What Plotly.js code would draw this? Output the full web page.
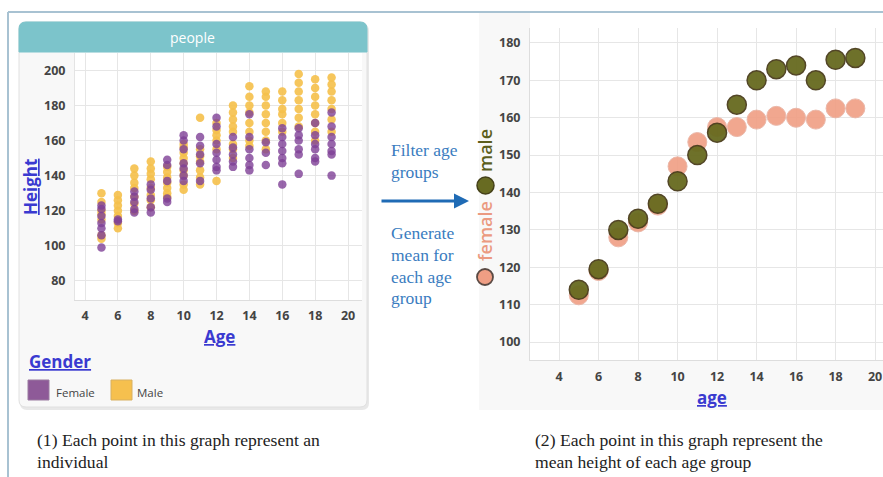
<!DOCTYPE html>
<html>
<head>
<meta charset="utf-8">
<script src="https://cdn.plot.ly/plotly-3.0.1.min.js"></script>
<style>html,body{margin:0;padding:0;background:#fff;}#chart{width:883px;height:477px;}</style>
</head>
<body>
<div id="chart"></div>
<script>
// ---------- data ----------
const ages = [5, 6, 7, 8, 9, 10, 11, 12, 13, 14, 15, 16, 17, 18, 19];

// individual heights (left chart), one list per age
const femaleHeights = [
  [99, 106, 110, 113, 117, 121, 123],
  [114, 115],
  [119, 121, 125, 128, 131],
  [119, 122, 127, 132, 135],
  [125, 127, 137, 146, 149],
  [137, 140, 144, 147, 155, 160, 163],
  [137, 147, 152, 157, 162],
  [143, 145, 149, 153, 158, 168, 173],
  [145, 148, 152, 156, 162],
  [143, 146, 150, 155, 162, 175],
  [146, 153, 159],
  [135, 147, 150, 154, 158, 162, 167],
  [141, 152, 155, 160, 163, 167],
  [148, 150, 155, 158, 163, 170],
  [140, 152, 154, 158, 162, 168, 176]
];
const maleHeights = [
  [104, 106, 115, 118, 120, 125, 130],
  [110, 113, 117, 120, 123, 126, 129],
  [120, 124, 128, 133, 136, 140, 144],
  [122, 126, 129, 133, 138, 141, 144, 148],
  [128, 130, 133, 136, 139, 142, 145],
  [132, 135, 140, 143, 147, 150, 153, 156, 158],
  [135, 139, 143, 148, 151, 155, 173],
  [137, 155, 160, 163, 166, 170],
  [150, 155, 158, 165, 168, 172, 176, 180],
  [157, 160, 165, 170, 176, 180, 185, 191],
  [155, 160, 165, 170, 175, 180, 185, 188],
  [165, 170, 175, 178, 183, 188],
  [168, 173, 178, 183, 188, 193, 198],
  [160, 165, 170, 175, 180, 185, 190, 195],
  [165, 172, 178, 183, 188, 192, 196]
];

// mean heights (right chart)
const femaleMeans = [112.5, 119, 128, 132, 136.5, 147, 153.5, 157.5, 157.5, 159.5, 160.5, 160, 159.5, 162.5, 162.5];
const maleMeans   = [114, 119.5, 130, 133, 137, 143, 150, 156, 163.5, 170, 173, 174, 170, 175.5, 176];

// tick values / labels
const leftXTicks = [4, 6, 8, 10, 12, 14, 16, 18, 20];
const leftYTicks = [80, 100, 120, 140, 160, 180, 200];
const rightXTicks = [4, 6, 8, 10, 12, 14, 16, 18, 20];
const rightYTicks = [100, 110, 120, 130, 140, 150, 160, 170, 180];

const panelTitle = 'people';
const legendTitle = 'Gender';
const genderNames = ['Female', 'Male'];
const seriesNames = ['female', 'male'];

// ---------- helpers ----------
const W = 883, H = 477;
const px = x => x / W;
const py = y => 1 - y / H;
function flatten(lists) {
  const xs = [], ys = [];
  lists.forEach((l, i) => l.forEach(v => { xs.push(ages[i]); ys.push(v); }));
  return {xs, ys};
}
const f = flatten(femaleHeights), m = flatten(maleHeights);

const BLUE_TITLE = '#3a3ad0';
const tickFont = {family: 'Open Sans, sans-serif', size: 12.5, color: '#444', weight: 700};

const traces = [
  {x: m.xs, y: m.ys, type: 'scatter', mode: 'markers', name: genderNames[1], xaxis: 'x', yaxis: 'y',
   marker: {color: '#f5c04a', size: 8.5, opacity: 0.9}},
  {x: f.xs, y: f.ys, type: 'scatter', mode: 'markers', name: genderNames[0], xaxis: 'x', yaxis: 'y',
   marker: {color: '#7e4096', size: 8.5, opacity: 0.8}},
  {x: ages, y: femaleMeans, type: 'scatter', mode: 'markers', name: seriesNames[0], xaxis: 'x2', yaxis: 'y2',
   marker: {color: '#f0a086', size: 19, opacity: 0.92, line: {color: '#eab2a2', width: 1}}},
  {x: ages, y: maleMeans, type: 'scatter', mode: 'markers', name: seriesNames[1], xaxis: 'x2', yaxis: 'y2',
   marker: {color: '#676a1f', size: 19, opacity: 0.95, line: {color: '#4a3d1c', width: 1.5}}}
];

function roundRect(x0, y0, x1, y1, r, topOnly) {
  const rb = topOnly ? 0 : r;
  return `M ${x0 + r},${-y0} L ${x1 - r},${-y0} Q ${x1},${-y0} ${x1},${-(y0 + r)} ` +
         `L ${x1},${-(y1 - rb)} Q ${x1},${-y1} ${x1 - rb},${-y1} L ${x0 + rb},${-y1} Q ${x0},${-y1} ${x0},${-(y1 - rb)} ` +
         `L ${x0},${-(y0 + r)} Q ${x0},${-y0} ${x0 + r},${-y0} Z`;
}
function pixShape(path, fill, line, lw) {
  return {type: 'path', xref: 'paper', yref: 'paper', xsizemode: 'pixel', ysizemode: 'pixel',
          xanchor: 0, yanchor: 1, path: path, fillcolor: fill, line: {color: line, width: lw}, layer: 'below'};
}
function bgRect(x0, y0, x1, y1, fill) {
  return {type: 'rect', xref: 'paper', yref: 'paper', x0: px(x0), x1: px(x1), y0: py(y1), y1: py(y0),
          fillcolor: fill, line: {width: 0}, layer: 'below'};
}

const shapes = [
  // right panel faint background around its plot area
  bgRect(479, 13, 530, 410, '#f8f8f8'),
  bgRect(530, 360, 883, 410, '#f8f8f8'),
  // card shadow + card
  pixShape(roundRect(20, 24, 369, 410, 7, false), '#e8e8e8', 'rgba(0,0,0,0)', 0),
  pixShape(roundRect(19, 22, 367, 407, 7, false), '#f8f8f8', '#e0e0e0', 1),
  pixShape(roundRect(19, 22, 367, 52, 7, true), '#7cc4cb', '#7cc4cb', 1),
  // white plot area inside card
  bgRect(75, 53, 362, 300, '#ffffff'),
  // frame lines
  {type: 'line', xref: 'paper', yref: 'paper', x0: px(8), x1: 1, y0: py(12), y1: py(12),
   line: {color: '#a8c2d2', width: 2}},
  {type: 'line', xref: 'paper', yref: 'paper', x0: px(8), x1: px(8), y0: py(12), y1: 0,
   line: {color: '#a8c2d2', width: 2}},
  // legend swatches
  {type: 'rect', xref: 'paper', yref: 'paper', x0: px(28), x1: px(49), y0: py(400), y1: py(380),
   fillcolor: '#8e5a98', line: {color: '#9a7aa0', width: 1}},
  {type: 'rect', xref: 'paper', yref: 'paper', x0: px(111), x1: px(132), y0: py(400), y1: py(380),
   fillcolor: '#f6c04e', line: {color: '#d8b060', width: 1}},
  // right "legend" circles
  {type: 'circle', xref: 'paper', yref: 'paper', x0: px(477), x1: px(493), y0: py(285), y1: py(269),
   fillcolor: '#ef9e84', line: {color: '#5a4a44', width: 1.8}},
  {type: 'circle', xref: 'paper', yref: 'paper', x0: px(477), x1: px(494), y0: py(194), y1: py(177),
   fillcolor: '#686b22', line: {color: '#444018', width: 1.5}}
];

const titleFont = {family: 'Open Sans, sans-serif', size: 17, color: BLUE_TITLE, weight: 700, lineposition: 'under'};
const serifBlue = {family: 'Liberation Serif, serif', size: 17.5, color: '#3a7cc0'};
const serifBlack = {family: 'Liberation Serif, serif', size: 17.6, color: '#222'};

function ann(text, x, y, font, extra) {
  return Object.assign({text: text, xref: 'paper', yref: 'paper', x: px(x), y: py(y), showarrow: false,
                        font: font, xanchor: 'center', yanchor: 'middle'}, extra || {});
}

const annotations = [
  ann(panelTitle, 192, 37, {family: 'Open Sans, sans-serif', size: 14, color: '#ffffff'}),
  ann('Height', 30, 187, titleFont, {textangle: -90}),
  ann('Age', 219, 336, titleFont),
  ann(legendTitle, 27, 361, titleFont, {xanchor: 'left'}),
  ann(genderNames[0], 54, 392, {family: 'Open Sans, sans-serif', size: 11.5, color: '#444'}, {xanchor: 'left'}),
  ann(genderNames[1], 135, 392, {family: 'Open Sans, sans-serif', size: 11.5, color: '#444'}, {xanchor: 'left'}),
  ann('Filter age', 389, 150, serifBlue, {xanchor: 'left'}),
  ann('groups', 389, 172, serifBlue, {xanchor: 'left'}),
  ann('Generate', 389, 233, serifBlue, {xanchor: 'left'}),
  ann('mean for', 389, 255, serifBlue, {xanchor: 'left'}),
  ann('each age', 389, 277, serifBlue, {xanchor: 'left'}),
  ann('group', 389, 298, serifBlue, {xanchor: 'left'}),
  // arrow
  {text: '', xref: 'paper', yref: 'paper', x: px(469), y: py(201), ax: -89, ay: 0, axref: 'pixel', ayref: 'pixel',
   showarrow: true, arrowhead: 2, arrowsize: 1, arrowwidth: 3, arrowcolor: '#1f6bb5'},
  ann('female', 485, 231, {family: 'Open Sans, sans-serif', size: 18, color: '#eb9a80', weight: 600}, {textangle: -90}),
  ann('male', 485, 151, {family: 'Open Sans, sans-serif', size: 18, color: '#5c5e1c', weight: 600}, {textangle: -90}),
  ann('age', 712, 397, titleFont),
  ann('(1) Each point in this graph represent an', 35, 440, serifBlack, {xanchor: 'left'}),
  ann('individual', 35, 462, serifBlack, {xanchor: 'left'}),
  ann('(2) Each point in this graph represent the', 533, 440, serifBlack, {xanchor: 'left'}),
  ann('mean height of each age group', 533, 462, serifBlack, {xanchor: 'left'})
];

const gridColor = '#e6e6e6';
const layout = {
  width: W, height: H,
  margin: {l: 0, r: 0, t: 0, b: 0},
  paper_bgcolor: '#ffffff',
  plot_bgcolor: '#ffffff',
  showlegend: false,
  xaxis: {domain: [px(75), px(362)], range: [3.39, 20.85], tickvals: leftXTicks, ticktext: leftXTicks.map(String),
          showgrid: true, gridcolor: gridColor, zeroline: false, showline: true, linecolor: '#dddddd',
          tickfont: tickFont, ticks: '', ticklabelstandoff: 4, anchor: 'y'},
  yaxis: {domain: [py(300), py(53)], range: [69, 210], tickvals: leftYTicks, ticktext: leftYTicks.map(String),
          showgrid: true, gridcolor: gridColor, zeroline: false, showline: true, linecolor: '#e4e4e4',
          tickfont: tickFont, ticks: '', ticklabelstandoff: 6, anchor: 'x'},
  xaxis2: {domain: [px(530), 1], range: [2.53, 20.4], tickvals: rightXTicks, ticktext: rightXTicks.map(String),
           showgrid: true, gridcolor: gridColor, zeroline: false, showline: true, linecolor: '#dddddd',
           tickfont: tickFont, ticks: '', ticklabelstandoff: 5, anchor: 'y2'},
  yaxis2: {domain: [py(360), py(28)], range: [95.2, 184], tickvals: rightYTicks, ticktext: rightYTicks.map(String),
           showgrid: true, gridcolor: gridColor, zeroline: false, showline: true, linecolor: '#dddddd',
           tickfont: tickFont, ticks: '', ticklabelstandoff: 6, anchor: 'x2'},
  shapes: shapes,
  annotations: annotations
};

Plotly.newPlot('chart', traces, layout, {displayModeBar: false, staticPlot: true});
</script>
</body>
</html>
